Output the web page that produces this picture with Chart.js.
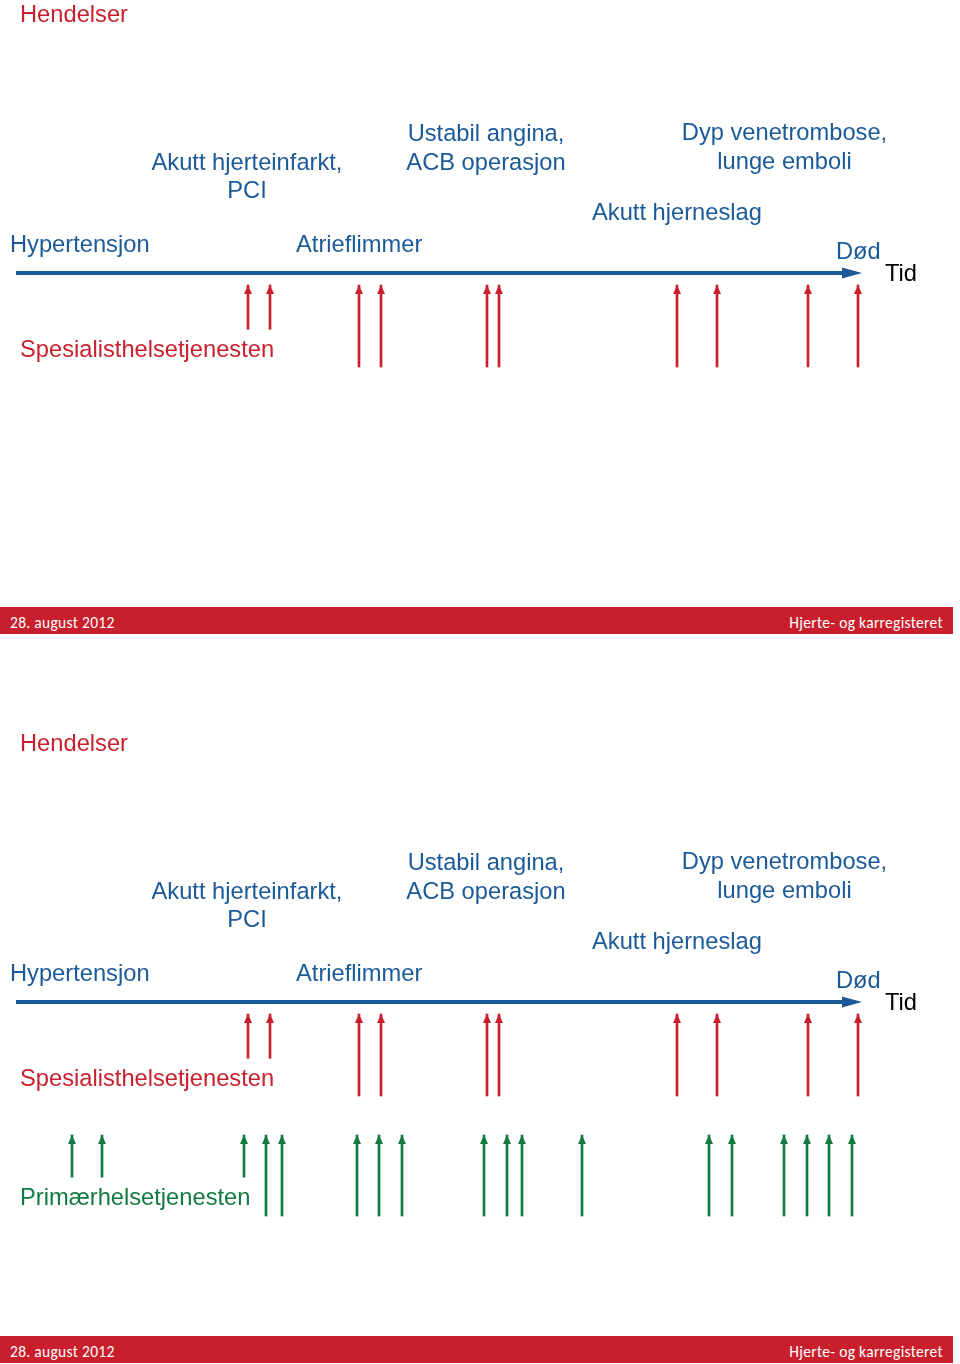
<!DOCTYPE html>
<html>
<head>
<meta charset="utf-8">
<title>Hendelser</title>
<script src="https://cdn.jsdelivr.net/npm/chart.js@4.4.1/dist/chart.umd.min.js"></script>
<style>
  body { margin: 0; background: #fff; }
  #page { position: relative; width: 960px; height: 1364px; overflow: hidden; background: #fff; }
  canvas { position: absolute; left: 0; }
  .lbl { position: absolute; white-space: nowrap; font-family: "Liberation Sans", Arial, sans-serif;
         font-size: 23.7px; line-height: 23.7px; color: #1b5a98; }
  .red { color: #c8202d; }
  .green { color: #127a40; }
  .black { color: #000; }
  .footer { position: absolute; left: 0; width: 953px; height: 27px; background: #c91f2c; }
  .footer span { position: absolute; top: 8px; font-family: Carlito, "Liberation Sans Narrow", "DejaVu Sans Condensed", sans-serif;
                 font-size: 15.5px; line-height: 16px; color: #fff; letter-spacing: 0.3px; }
</style>
</head>
<body>
<div id="page">
  <canvas id="slide1" width="960" height="600" style="top:0px"></canvas>
  <canvas id="slide2" width="960" height="600" style="top:729px"></canvas>
  <div class="footer" style="top:607px"><span style="left:10px">28. august 2012</span><span style="right:10px">Hjerte- og karregisteret</span></div>
  <div class="footer" style="top:1336px"><span style="left:10px">28. august 2012</span><span style="right:10px">Hjerte- og karregisteret</span></div>
</div>
<script>
// time positions of events (same units as the horizontal scale)
const redTimes = [248, 270, 359, 381, 487, 499, 677, 717, 808, 858];
const redReach = [0.54, 0.54, 1, 1, 1, 1, 1, 1, 1, 1];
const greenTimes = [72, 102, 244, 266, 282, 357, 379, 402, 484, 507, 522, 582, 709, 732, 784, 807, 829, 852];
const greenReach = [0.52, 0.52, 0.52, 1, 1, 1, 1, 1, 1, 1, 1, 1, 1, 1, 1, 1, 1, 1];
const timeStart = 16;
const timeEnd = 862;

const slideGap = 729;

// layout of the rows (y scale units = px inside a slide)
const axisY = 273;
const redTop = 285, redSpan = 82;
const greenTop = 1135 - slideGap, greenSpan = 81;

const BLUE = '#1b5a98';
const RED = '#c8202d';
const GREEN = '#127a40';

// draws arrow heads on top of the bars, and the head of the time axis
const arrowHeads = {
  id: 'arrowHeads',
  afterDatasetsDraw(chart) {
    const ctx = chart.ctx;
    chart.data.datasets.forEach((ds, i) => {
      if (!ds.head) return;
      const meta = chart.getDatasetMeta(i);
      ctx.save();
      ctx.fillStyle = ds.head.color;
      if (ds.type === 'line') {
        const last = meta.data[meta.data.length - 1];
        const tipX = chart.scales.x.getPixelForValue(ds.head.tip);
        ctx.beginPath();
        ctx.moveTo(tipX, last.y);
        ctx.lineTo(tipX - ds.head.len, last.y - ds.head.half);
        ctx.lineTo(tipX - ds.head.len, last.y + ds.head.half);
        ctx.closePath();
        ctx.fill();
      } else {
        meta.data.forEach(el => {
          const top = Math.min(el.y, el.base);
          ctx.beginPath();
          ctx.moveTo(el.x, top);
          ctx.lineTo(el.x - ds.head.half, top + ds.head.len);
          ctx.lineTo(el.x + ds.head.half, top + ds.head.len);
          ctx.closePath();
          ctx.fill();
        });
      }
      ctx.restore();
    });
  }
};

function arrowSet(times, reach, top, span, color) {
  return {
    type: 'bar',
    data: times.map((t, i) => ({ x: t, y: [top + reach[i] * span, top] })),
    backgroundColor: color,
    borderWidth: 0,
    barThickness: 2,
    grouped: false,
    head: { color: color, len: 9, half: 4 }
  };
}

function makeSlide(id, withGreen) {
  const datasets = [
    {
      type: 'line',
      data: [{ x: timeStart, y: axisY }, { x: timeEnd - 10, y: axisY }],
      borderColor: BLUE,
      borderWidth: 4,
      pointRadius: 0,
      head: { color: BLUE, tip: timeEnd, len: 20, half: 5.5 }
    },
    arrowSet(redTimes, redReach, redTop, redSpan, RED)
  ];
  if (withGreen) datasets.push(arrowSet(greenTimes, greenReach, greenTop, greenSpan, GREEN));

  new Chart(document.getElementById(id), {
    type: 'bar',
    data: { datasets: datasets },
    options: {
      responsive: false,
      animation: false,
      layout: { padding: 0 },
      plugins: { legend: { display: false }, tooltip: { enabled: false } },
      scales: {
        x: { type: 'linear', min: 0, max: 960, offset: false, display: false },
        y: { type: 'linear', min: 0, max: 600, reverse: true, display: false }
      }
    },
    plugins: [arrowHeads]
  });
}

makeSlide('slide1', false);
makeSlide('slide2', true);

// text labels, placed by baseline
const page = document.getElementById('page');
const fs = 23.7;
function addText(txt, x, base, cls, anchor) {
  const d = document.createElement('div');
  d.className = 'lbl ' + (cls || '');
  d.textContent = txt;
  d.style.top = (base - fs * 0.8465) + 'px';
  d.style.left = x + 'px';
  if (anchor === 'center') d.style.transform = 'translateX(-50%)';
  page.appendChild(d);
}

function slideLabels(off, withGreen) {
  addText('Hendelser', 20, off + 23, 'red');
  addText('Akutt hjerteinfarkt,', 247, off + 171.5, '', 'center');
  addText('PCI', 247, off + 199.5, '', 'center');
  addText('Ustabil angina,', 486, off + 142.5, '', 'center');
  addText('ACB operasjon', 486, off + 171.3, '', 'center');
  addText('Dyp venetrombose,', 784.5, off + 141.5, '', 'center');
  addText('lunge emboli', 784.5, off + 170, '', 'center');
  addText('Akutt hjerneslag', 592, off + 221);
  addText('Hypertensjon', 10, off + 253);
  addText('Atrieflimmer', 296, off + 253);
  addText('Død', 836, off + 260);
  addText('Tid', 885, off + 282.5, 'black');
  addText('Spesialisthelsetjenesten', 20, off + 358, 'red');
  if (withGreen) addText('Primærhelsetjenesten', 20, off + 477, 'green');
}

slideLabels(0, false);
slideLabels(slideGap, true);
</script>
</body>
</html>
